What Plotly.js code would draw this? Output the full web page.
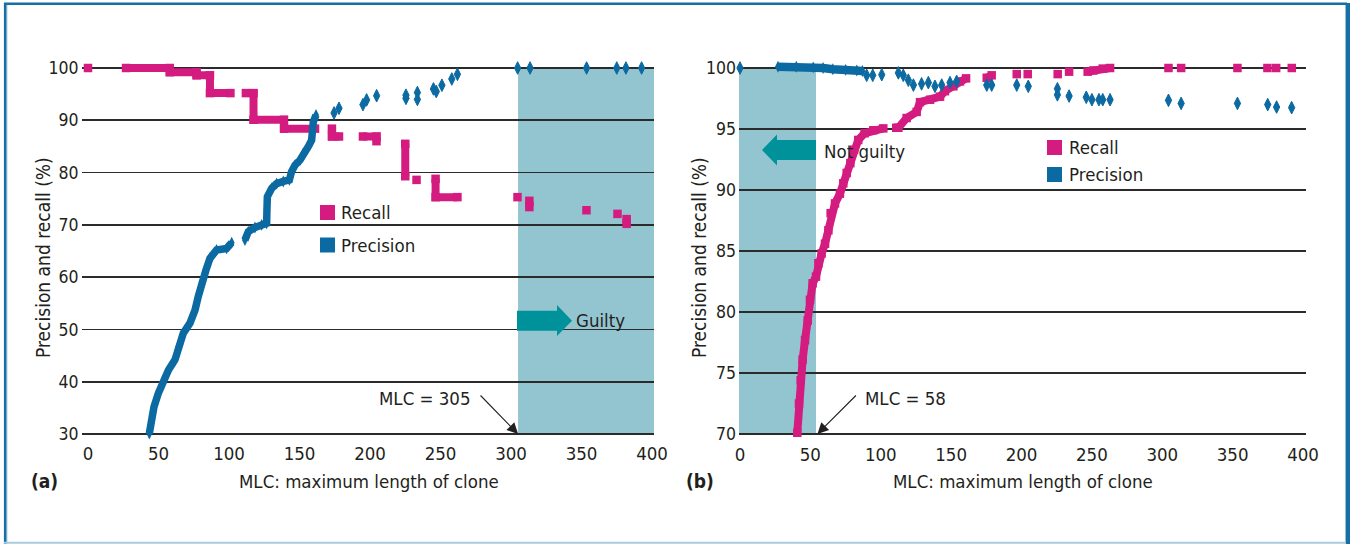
<!DOCTYPE html>
<html><head><meta charset="utf-8">
<script src="https://cdn.plot.ly/plotly-3.0.1.min.js"></script>
<style>html,body{margin:0;padding:0;background:#fff;}#chart{width:1350px;height:544px;}</style>
</head><body><div id="chart"></div>
<script>
// ---------- DATA ----------
var xTicks = [0, 50, 100, 150, 200, 250, 300, 350, 400];
var yTicksA = [30, 40, 50, 60, 70, 80, 90, 100];
var yTicksB = [70, 75, 80, 85, 90, 95, 100];

// (a) Recall
var recallAx = [0, null, 27, 58, 58, 77, 77, 86.5, 86.5, 101, null, 112, 117.4, 117.4, 139, 139, 161, null, 173, 173, 178, null, 195, 204.6, 204.6, null, 225, 225, null, 233, null, 246.5, 246.5, 262, null, 304.6, null, 313, 313, null, 353.5, null, 375.5, null, 382, 382];
var recallAy = [100, null, 100, 100, 99.2, 99.2, 98.6, 98.6, 95.2, 95.2, null, 95.2, 95.2, 90.1, 90.1, 88.4, 88.4, null, 88.4, 86.9, 86.9, null, 86.9, 86.9, 86.0, null, 85.5, 79.3, null, 78.6, null, 78.8, 75.3, 75.3, null, 75.3, null, 74.6, 73.4, null, 72.8, null, 72.1, null, 71.1, 70.2];

// (a) Precision, dense part
var precAx = [43.5, 45.2, 46.8, 49.9, 53.4, 57, 61.7, 64.1, 67.6, 72.3, 75.9, 78.2, 80.6, 83.7, 86.5, 91.2, 98.3, 101.9, null, 111.3, 113.7, 118.4, 123.2, 126.7, 126.9, 127.2, 130.3, 133.8, 138.5, 142.8, 144.4, 146.8, 150.4, 152.7, 156.3, 158.6, 159.3, 159.8, 161.7];
var precAy = [30.1, 32.7, 35.2, 37.8, 40, 42.2, 44.2, 46.7, 49.3, 51.2, 53.7, 56.3, 59.1, 61.4, 63.6, 65.2, 65.5, 66.6, null, 67.1, 68.7, 69.5, 70, 70.3, 72.8, 75.4, 77, 77.9, 78.3, 78.6, 80.2, 81.4, 82.4, 83.7, 85, 86.2, 88.1, 89.7, 91];
// (a) Precision, sparse part
var precA2x = [174.5, 178, 195, 197.6, 204.7, 225.5, 225.5, 233.6, 233.6, 245, 247, 251, 258, 262, 304.7, 313.5, 353.6, 375, 381.5, 392.6];
var precA2y = [91.4, 92.3, 93, 93.9, 94.7, 94.2, 94.8, 95.3, 94.0, 96.0, 95.5, 96.7, 97.9, 98.8, 100, 100, 100, 100, 100, 100];

// (b) Recall
var recallBx = [40.7, 41.9, 43.1, 44.5, 46.2, 48.1, 49.7, 51.6, 54, 55.7, 58, 60.4, 62.8, 64.4, 67.5, 71, 73.4, 75.8, 78.4, 81, 84, 88.5, 94.7, 101.8, null, 111, 112.5, 118.4, 125.5, 127.9, 135, 142.1, 145.6, 151.6, 156.3, 160.6, null, 175.3, 178.8, null, 196.6, null, 204.4, null, 225.7, null, 233.8, null, 247, 251.1, 257.7, 262.9, null, 304.4, null, 313.4, null, 353.4, null, 374.7, null, 380.9, null, 392];
var recallBy = [70.1, 72.5, 74.4, 76.1, 77.7, 79.3, 81, 82.35, 82.9, 84, 84.8, 85.6, 86.7, 88.1, 88.9, 89.7, 90.55, 91.4, 92.2, 93.3, 94.1, 94.65, 94.9, 95.05, null, 95.1, 95.1, 95.9, 96.4, 97.2, 97.4, 97.65, 98.1, 98.5, 98.9, 99.15, null, 99.2, 99.4, null, 99.5, null, 99.5, null, 99.5, null, 99.7, null, 99.7, 99.8, 99.95, 100, null, 100, null, 100, null, 100, null, 100, null, 100, null, 100];

// (b) Precision, dense part
var precBx = [27, 40, 52, 59, 66, 75, 83, 87];
var precBy = [100.1, 100.1, 100.05, 100, 99.9, 99.85, 99.8, 99.75];
// (b) Precision, sparse part
var precB2x = [0, 90, 94.3, 100.7, 112.5, 116, 119.6, 123.2, 129, 133.8, 138.5, 143.3, 149.2, 153.9, 175.3, 178.8, 196.6, 204.8, 225.5, 225.5, 233.8, 246, 250, 255, 257.7, 262.9, 304.4, 313.4, 353.4, 374.9, 381.2, 391.9];
var precB2y = [100, 99.4, 99.4, 99.45, 99.6, 99.4, 99.0, 98.6, 98.7, 98.8, 98.5, 98.6, 98.8, 98.9, 98.6, 98.6, 98.6, 98.5, 98.3, 97.8, 97.7, 97.6, 97.4, 97.4, 97.4, 97.4, 97.35, 97.1, 97.1, 97.0, 96.8, 96.75];

var thresholdA = 305, thresholdB = 54;

// ---------- STYLE / LAYOUT ----------
var W = 1350, H = 544;
function px(p) { return p / W; }
function py(p) { return 1 - p / H; }
var FONT = '"DejaVu Sans Condensed", "Liberation Sans Narrow", sans-serif';
var TXT = '#231f20';
var MAG = '#d41b80';
var BLU = '#0b6aa2';
var SHADE = '#92c5d0';
var TEAL = '#00929a';
var TS = 18.5;

var rangeAx = [-4.6, 401.4], rangeAy = [29, 101.2];
var rangeBx = [-0.71, 402.1], rangeBy = [69.5, 100.6];

function recallTrace(x, y, xa, ya) {
  return {x: x, y: y, xaxis: xa, yaxis: ya, type: 'scatter', mode: 'lines+markers',
    line: {color: MAG, width: 8}, marker: {symbol: 'square', size: 8.5, color: MAG},
    cliponaxis: false, showlegend: false, hoverinfo: 'skip'};
}
function precDense(x, y, xa, ya, w) {
  return {x: x, y: y, xaxis: xa, yaxis: ya, type: 'scatter', mode: 'lines+markers',
    line: {color: BLU, width: w}, marker: {symbol: 'diamond-tall', size: 8.5, color: BLU},
    cliponaxis: false, showlegend: false, hoverinfo: 'skip'};
}
function precSparse(x, y, xa, ya) {
  return {x: x, y: y, xaxis: xa, yaxis: ya, type: 'scatter', mode: 'markers',
    marker: {symbol: 'diamond-tall', size: 9, color: BLU, line: {color: BLU, width: 1}},
    cliponaxis: false, showlegend: false, hoverinfo: 'skip'};
}

var data = [
  recallTrace(recallAx, recallAy, 'x', 'y'),
  precDense(precAx, precAy, 'x', 'y', 7.5),
  precSparse(precA2x, precA2y, 'x', 'y'),
  recallTrace(recallBx, recallBy, 'x2', 'y2'),
  precDense(precBx, precBy, 'x2', 'y2', 8.5),
  precSparse(precB2x, precB2y, 'x2', 'y2')
];

function xAxis(domain, range, anchor) {
  return {domain: domain, range: range, anchor: anchor, tickmode: 'array', tickvals: xTicks,
    ticktext: xTicks.map(String), showgrid: false, zeroline: false, showline: false, ticks: '',
    ticklabelstandoff: 1, tickfont: {family: FONT, size: 18.5, color: TXT}, fixedrange: true};
}
function yAxis(domain, range, ticks, anchor) {
  return {domain: domain, range: range, anchor: anchor, tickmode: 'array', tickvals: ticks,
    ticktext: ticks.map(String), showgrid: true, gridcolor: '#2b2b2b', gridwidth: 1.6,
    zeroline: false, showline: false, ticks: '', ticklabelstandoff: 2,
    tickfont: {family: FONT, size: 17.5, color: TXT}, fixedrange: true};
}

function arrowPath(pts) {
  return 'M' + pts.map(function (p) { return px(p[0]) + ',' + py(p[1]); }).join('L') + 'Z';
}

var shapes = [
  {type: 'rect', xref: 'x', yref: 'y', x0: thresholdA, x1: rangeAx[1], y0: 30, y1: 100, fillcolor: SHADE, line: {width: 0}, layer: 'below'},
  {type: 'rect', xref: 'x2', yref: 'y2', x0: rangeBx[0], x1: thresholdB, y0: 70, y1: 100, fillcolor: SHADE, line: {width: 0}, layer: 'below'},
  {type: 'path', xref: 'paper', yref: 'paper', path: arrowPath([[517, 310.7], [557, 310.7], [557, 305], [572, 320.7], [557, 336], [557, 330.7], [517, 330.7]]), fillcolor: TEAL, line: {width: 0}},
  {type: 'path', xref: 'paper', yref: 'paper', path: arrowPath([[816, 140], [777, 140], [777, 134.5], [762, 150], [777, 165.5], [777, 160], [816, 160]]), fillcolor: TEAL, line: {width: 0}},
  // legend swatches
  {type: 'rect', xref: 'paper', yref: 'paper', x0: px(320), x1: px(335), y0: py(220), y1: py(205), fillcolor: MAG, line: {width: 0}},
  {type: 'rect', xref: 'paper', yref: 'paper', x0: px(320), x1: px(335), y0: py(252.5), y1: py(237.5), fillcolor: BLU, line: {width: 0}},
  {type: 'rect', xref: 'paper', yref: 'paper', x0: px(1047), x1: px(1062), y0: py(155), y1: py(140), fillcolor: MAG, line: {width: 0}},
  {type: 'rect', xref: 'paper', yref: 'paper', x0: px(1047), x1: px(1062), y0: py(182), y1: py(167), fillcolor: BLU, line: {width: 0}},
  // frame
  {type: 'line', xref: 'paper', yref: 'paper', x0: px(4), x1: px(1347), y0: py(3.8), y1: py(3.8), line: {color: '#1670a6', width: 2.5}},
  {type: 'line', xref: 'paper', yref: 'paper', x0: px(5.3), x1: px(5.3), y0: py(3), y1: py(544), line: {color: '#1670a6', width: 2.8}},
  {type: 'line', xref: 'paper', yref: 'paper', x0: px(7), x1: px(7), y0: py(5), y1: py(544), line: {color: '#9ec4dc', width: 0.8}},
  {type: 'line', xref: 'paper', yref: 'paper', x0: px(1347.8), x1: px(1347.8), y0: py(3), y1: py(544), line: {color: '#1670a6', width: 4.5}},
  {type: 'line', xref: 'paper', yref: 'paper', x0: px(4), x1: px(1346), y0: py(542.8), y1: py(542.8), line: {color: '#a8cbe0', width: 2}}
];

function txt(text, x, y, opts) {
  var a = {text: text, xref: 'paper', yref: 'paper', x: px(x), y: py(y), showarrow: false,
    xanchor: 'center', yanchor: 'middle', font: {family: FONT, size: TS, color: TXT}};
  for (var k in opts) a[k] = opts[k];
  return a;
}

var annotations = [
  txt('MLC: maximum length of clone', 369, 481),
  txt('MLC: maximum length of clone', 1023, 481),
  txt('Precision and recall (%)', 43, 258, {textangle: -90, font: {family: FONT, size: 19, color: TXT}}),
  txt('Precision and recall (%)', 699, 258, {textangle: -90, font: {family: FONT, size: 19, color: TXT}}),
  txt('<b>(a)</b>', 44.5, 481, {font: {family: FONT, size: 19, color: TXT}}),
  txt('<b>(b)</b>', 700.5, 481, {font: {family: FONT, size: 19, color: TXT}}),
  txt('Recall', 339, 212.5, {xanchor: 'left'}),
  txt('Precision', 339, 245, {xanchor: 'left'}),
  txt('Recall', 1067, 147.5, {xanchor: 'left'}),
  txt('Precision', 1067, 174.5, {xanchor: 'left'}),
  txt('Guilty', 573.5, 320.5, {xanchor: 'left'}),
  txt('Not guilty', 821.5, 151, {xanchor: 'left'}),
  txt('MLC = 305', 425, 398),
  txt('MLC = 58', 905, 398),
  {x: thresholdA, y: 30, xref: 'x', yref: 'y', ax: -39, ay: -40, text: '', showarrow: true,
    arrowhead: 2, arrowsize: 2, arrowwidth: 1.1, arrowcolor: TXT, standoff: 0},
  {x: 55, y: 70, xref: 'x2', yref: 'y2', ax: 40, ay: -40, text: '', showarrow: true,
    arrowhead: 2, arrowsize: 2, arrowwidth: 1.1, arrowcolor: TXT, standoff: 0}
];

var layout = {
  width: W, height: H, margin: {l: 0, r: 0, t: 0, b: 0},
  paper_bgcolor: '#ffffff', plot_bgcolor: 'rgba(0,0,0,0)',
  font: {family: FONT, color: TXT},
  showlegend: false,
  xaxis: xAxis([px(81.5), px(654)], rangeAx, 'y'),
  yaxis: yAxis([py(439.23), py(61.73)], rangeAy, yTicksA, 'x'),
  xaxis2: xAxis([px(739), px(1306)], rangeBx, 'y2'),
  yaxis2: yAxis([py(440.1), py(60.68)], rangeBy, yTicksB, 'x2'),
  shapes: shapes,
  annotations: annotations
};

Plotly.newPlot('chart', data, layout, {displayModeBar: false, staticPlot: true});
</script></body></html>
